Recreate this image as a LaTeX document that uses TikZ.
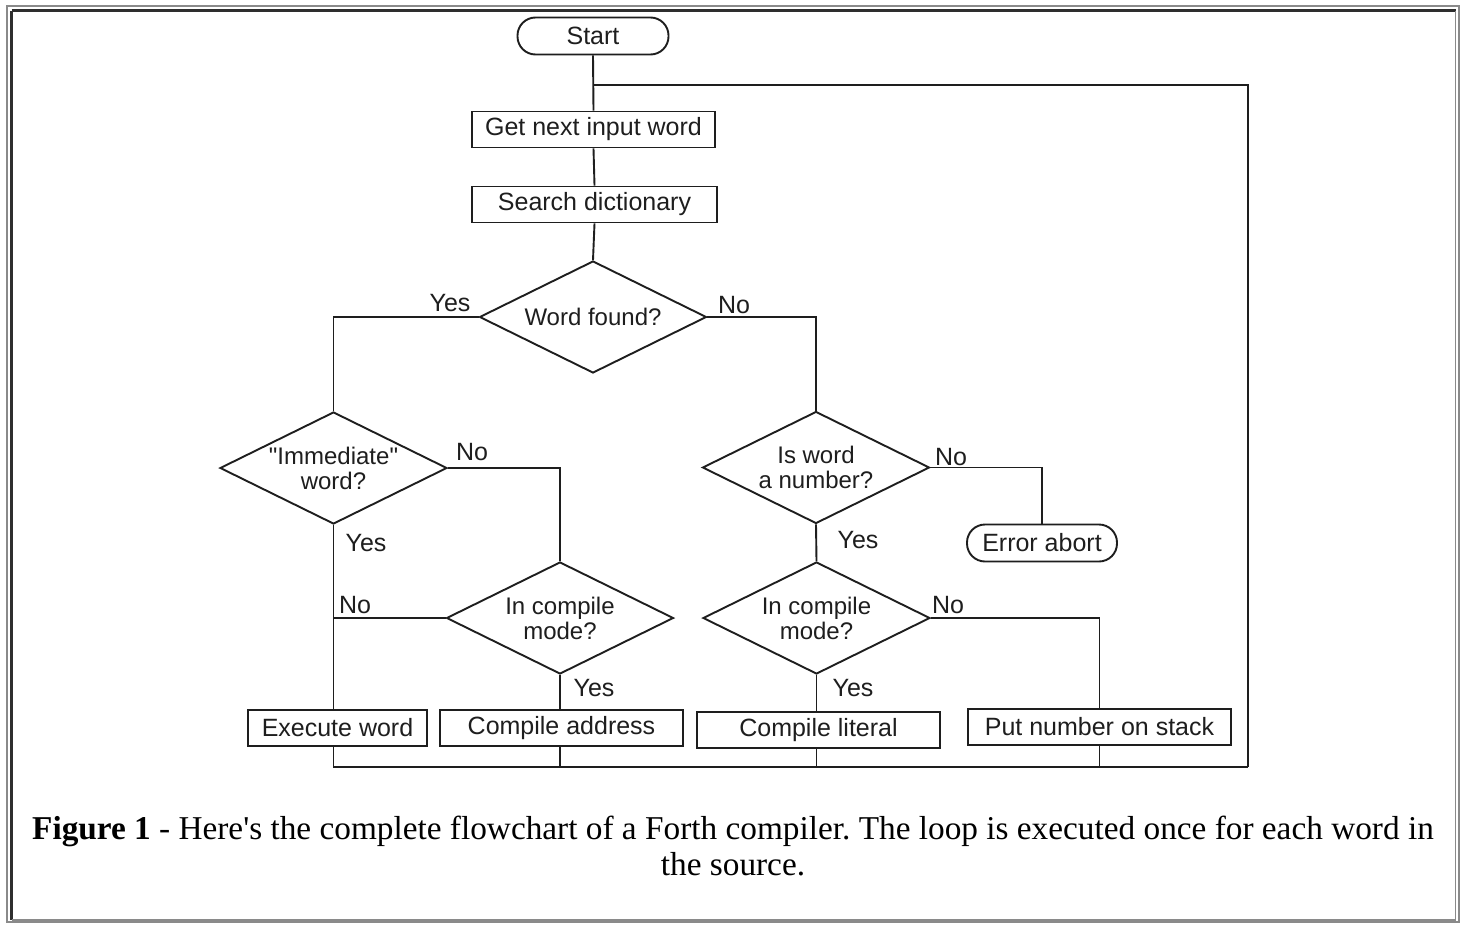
\documentclass[tikz,border=0pt]{standalone}
\usepackage{fontspec}
\setmainfont{Liberation Serif}
\newfontfamily\flowfont{Liberation Sans}
\usetikzlibrary{shapes.geometric}
\definecolor{ink}{HTML}{1E1E1E}
\definecolor{framegray}{HTML}{8A8A8A}
\definecolor{framedark}{HTML}{2E2E2E}
\tikzset{
  base/.style={draw=ink, line width=1.9pt, text=ink, font=\flowfont\fontsize{25}{26}\selectfont, inner sep=0pt},
  procbox/.style={base, rectangle, minimum height=36pt},
  pill/.style={base, rectangle, rounded corners=18pt, minimum height=37pt},
  decision/.style={base, diamond, shape aspect=2.03, minimum width=227pt, minimum height=112pt, align=center, font=\flowfont\fontsize{24}{25}\selectfont},
  lbl/.style={text=ink, font=\flowfont\fontsize{25}{26}\selectfont, inner sep=0pt},
  conn/.style={draw=ink, line width=1.9pt},
  captext/.style={text=black, font=\fontsize{33.3}{36}\selectfont, inner sep=0pt, anchor=base}
}
\begin{document}
\frenchspacing
\begin{tikzpicture}[x=1pt,y=-1pt]
\useasboundingbox (0,0) rectangle (1465,924);
\fill[white] (0,0) rectangle (1465,924);
% frame
\draw[framegray, line width=2.5pt] (7,6) rectangle (1459,922);
\draw[framedark, line width=2.5pt] (11.5,10.5) -- (1455.5,10.5);
\draw[framedark, line width=2.5pt] (11.5,10.5) -- (11.5,920);
\draw[framegray, line width=1.5pt] (1455.5,10.5) -- (1455.5,920) -- (11.5,920);

% nodes
\node[pill, minimum width=151pt] (start) at (593,36) {Start};
\node[procbox, minimum width=243pt] (get) at (593.5,129.5) {Get next input word};
\node[procbox, minimum width=245pt] (search) at (594.5,204.5) {Search dictionary};
\node[decision] (wf) at (593,317) {Word found?};
\node[decision] (imm) at (333.5,468) {"Immediate"\\word?};
\node[decision] (isnum) at (816,467.5) {Is word\\a number?};
\node[pill, minimum width=150pt] (err) at (1042,543) {Error abort};
\node[decision] (icl) at (560,618) {In compile\\mode?};
\node[decision] (icr) at (816.5,618) {In compile\\mode?};
\node[procbox, minimum width=179pt] (exec) at (337.5,728) {Execute word};
\node[procbox, minimum width=243pt] (caddr) at (561.5,728) {Compile address};
\node[procbox, minimum width=243pt] (clit) at (818.5,730) {Compile literal};
\node[procbox, minimum width=263pt] (put) at (1099.5,727) {Put number on stack};

% labels
\node[lbl] (l1) at (450,303) {Yes};
\node[lbl] (l2) at (734,305) {No};
\node[lbl] (l3) at (472,452) {No};
\node[lbl] (l4) at (366,543) {Yes};
\node[lbl] (l5) at (355,605) {No};
\node[lbl] (l6) at (594,688) {Yes};
\node[lbl] (l7) at (951,457) {No};
\node[lbl] (l8) at (858,540) {Yes};
\node[lbl] (l9) at (948,605) {No};
\node[lbl] (l10) at (853,688) {Yes};

% loop coordinates
\coordinate (lj) at (593,85);
\coordinate (lr) at (1248,767);

% connectors
\draw[conn] (start.south) -- (get.north);
\draw[conn] (lj) -| (lr);
\draw[conn] (get.south) -- (search.north);
\draw[conn] (search.south) -- (wf.north);
\draw[conn] (wf.west) -| (imm.north);
\draw[conn] (wf.east) -| (isnum.north);
\draw[conn] (imm.east) -| (icl.north);
\draw[conn] (imm.south) -- (imm.south |- exec.north);
\draw[conn] (icl.west) -- (icl.west -| imm.south);
\draw[conn] (icl.south) -- (icl.south |- caddr.north);
\draw[conn] (isnum.east) -| (err.north);
\draw[conn] (isnum.south) -- (icr.north);
\draw[conn] (icr.east) -| (put.north);
\draw[conn] (icr.south) -- (icr.south |- clit.north);
\draw[conn] (imm.south |- exec.south) |- (lr);
\draw[conn] (icl.south |- caddr.south) -- (icl.south |- lr);
\draw[conn] (icr.south |- clit.south) -- (icr.south |- lr);
\draw[conn] (put.south) -- (put.south |- lr);

% caption
\node[captext] (cap1) at (733,839)
  {\textbf{Figure 1} - Here\textquotesingle s the complete flowchart of a Forth compiler. The loop is executed once for each word in};
\node[captext] (cap2) at (733,875) {the source.};
\end{tikzpicture}
\end{document}
